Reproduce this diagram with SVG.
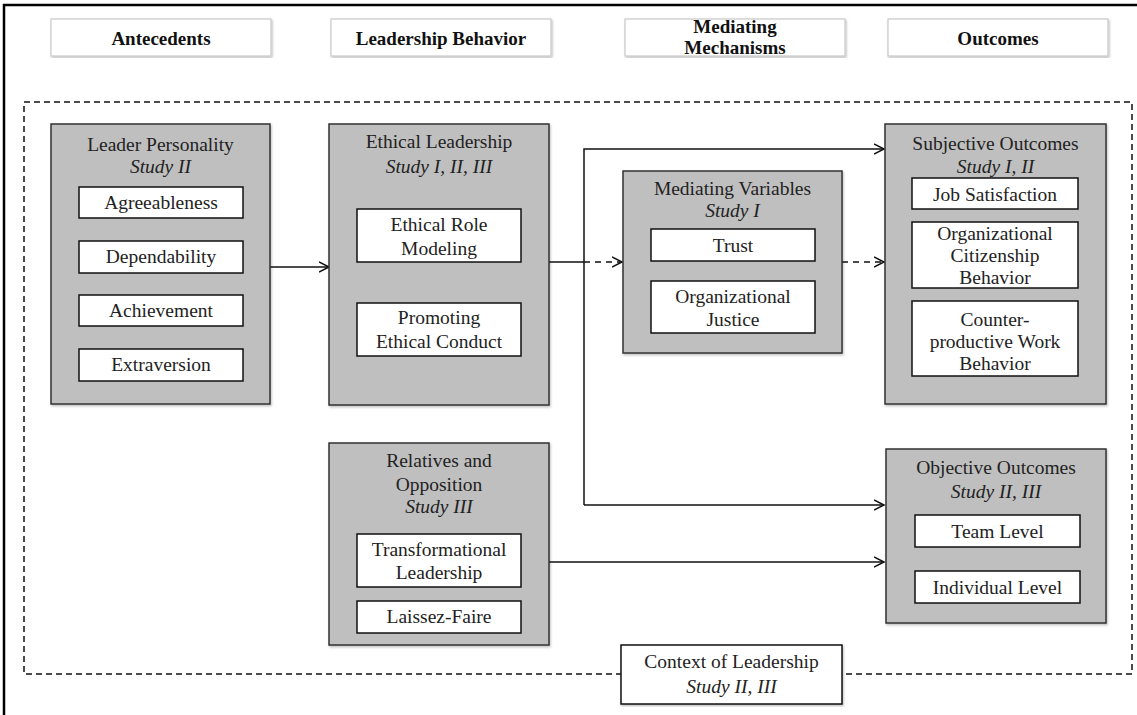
<svg xmlns="http://www.w3.org/2000/svg" width="1137" height="715" viewBox="0 0 1137 715">
<style>
.t{font-family:"Liberation Serif","Times New Roman",serif;font-size:19.5px;fill:#222;text-anchor:middle}
.i{font-style:italic}
.h{font-family:"Liberation Serif","Times New Roman",serif;font-size:19px;font-weight:bold;fill:#111;text-anchor:middle}
.hb{fill:#fff;stroke:#c8c8c8;stroke-width:1.2}
.g{fill:#bfbfbf;stroke:#333;stroke-width:1.5}
.w{fill:#fff;stroke:#111;stroke-width:1.5}
.ln{fill:none;stroke:#111;stroke-width:1.5}
.dl{fill:none;stroke:#111;stroke-width:1.5;stroke-dasharray:6 5}
</style>
<defs>
<marker id="ah" markerUnits="userSpaceOnUse" markerWidth="12" markerHeight="12" refX="10" refY="5" orient="auto" viewBox="0 0 12 10">
<path d="M0,0 L10,5 L0,10" fill="none" stroke="#111" stroke-width="1.5"/>
</marker>
<filter id="sh" x="-5%" y="-5%" width="110%" height="110%">
<feDropShadow dx="1" dy="1.5" stdDeviation="1" flood-color="#000" flood-opacity="0.25"/>
</filter>
</defs>
<rect width="1137" height="715" fill="#fff"/>
<path d="M4,715 V5 H1137" fill="none" stroke="#000" stroke-width="2.5"/>

<g id="headers">
<rect class="hb" x="51" y="19" width="220" height="37" filter="url(#sh)"/>
<text class="h" x="161" y="45">Antecedents</text>
<rect class="hb" x="331" y="19" width="220" height="37" filter="url(#sh)"/>
<text class="h" x="441" y="45">Leadership Behavior</text>
<rect class="hb" x="625" y="19" width="220" height="37" filter="url(#sh)"/>
<text class="h" x="735" y="33">Mediating</text>
<text class="h" x="735" y="54">Mechanisms</text>
<rect class="hb" x="888" y="19" width="220" height="37" filter="url(#sh)"/>
<text class="h" x="998" y="45">Outcomes</text>
</g>

<rect id="context-frame" x="24" y="102" width="1108" height="572" fill="none" stroke="#111" stroke-width="1.5" stroke-dasharray="6 4"/>

<g id="connectors">
<path class="ln" d="M270,267 H329" marker-end="url(#ah)"/>
<path class="ln" d="M549,262 H584"/>
<path class="dl" d="M584,262 H622" marker-end="url(#ah)"/>
<path class="ln" d="M584,505 V149 H884" marker-end="url(#ah)"/>
<path class="ln" d="M584,505 H884" marker-end="url(#ah)"/>
<path class="dl" d="M842,262 H884" marker-end="url(#ah)"/>
<path class="ln" d="M549,562 H884" marker-end="url(#ah)"/>
</g>

<g id="leader-personality">
<rect class="g" x="51" y="124" width="219" height="280" filter="url(#sh)"/>
<text class="t" x="160.5" y="151">Leader Personality</text>
<text class="t i" x="160.5" y="173">Study II</text>
<rect class="w" x="79" y="187" width="164" height="31"/>
<text class="t" x="161" y="209">Agreeableness</text>
<rect class="w" x="79" y="241" width="164" height="32"/>
<text class="t" x="161" y="263">Dependability</text>
<rect class="w" x="79" y="295" width="164" height="31"/>
<text class="t" x="161" y="317">Achievement</text>
<rect class="w" x="79" y="349" width="164" height="32"/>
<text class="t" x="161" y="371">Extraversion</text>
</g>

<g id="ethical-leadership">
<rect class="g" x="329" y="124" width="220" height="281" filter="url(#sh)"/>
<text class="t" x="439" y="148">Ethical Leadership</text>
<text class="t i" x="439" y="173">Study I, II, III</text>
<rect class="w" x="357" y="209" width="164" height="53"/>
<text class="t" x="439" y="231">Ethical Role</text>
<text class="t" x="439" y="255">Modeling</text>
<rect class="w" x="357" y="303" width="164" height="53"/>
<text class="t" x="439" y="324">Promoting</text>
<text class="t" x="439" y="348">Ethical Conduct</text>
</g>

<g id="relatives-opposition">
<rect class="g" x="329" y="443" width="220" height="202" filter="url(#sh)"/>
<text class="t" x="439" y="467">Relatives and</text>
<text class="t" x="439" y="491">Opposition</text>
<text class="t i" x="439" y="513">Study III</text>
<rect class="w" x="357" y="534" width="164" height="53"/>
<text class="t" x="439" y="556">Transformational</text>
<text class="t" x="439" y="579">Leadership</text>
<rect class="w" x="357" y="601" width="164" height="32"/>
<text class="t" x="439" y="623">Laissez-Faire</text>
</g>

<g id="mediating-variables">
<rect class="g" x="623" y="171" width="219" height="182" filter="url(#sh)"/>
<text class="t" x="732.5" y="195">Mediating Variables</text>
<text class="t i" x="732.5" y="217">Study I</text>
<rect class="w" x="651" y="229" width="164" height="32"/>
<text class="t" x="733" y="252">Trust</text>
<rect class="w" x="651" y="281" width="164" height="52"/>
<text class="t" x="733" y="303">Organizational</text>
<text class="t" x="733" y="326">Justice</text>
</g>

<g id="subjective-outcomes">
<rect class="g" x="885" y="124" width="221" height="280" filter="url(#sh)"/>
<text class="t" x="995.5" y="150">Subjective Outcomes</text>
<text class="t i" x="995.5" y="173">Study I, II</text>
<rect class="w" x="912" y="178" width="166" height="31"/>
<text class="t" x="995" y="201">Job Satisfaction</text>
<rect class="w" x="912" y="222" width="166" height="66"/>
<text class="t" x="995" y="240">Organizational</text>
<text class="t" x="995" y="262">Citizenship</text>
<text class="t" x="995" y="284">Behavior</text>
<rect class="w" x="912" y="301" width="166" height="75"/>
<text class="t" x="995" y="326">Counter-</text>
<text class="t" x="995" y="348">productive Work</text>
<text class="t" x="995" y="370">Behavior</text>
</g>

<g id="objective-outcomes">
<rect class="g" x="886" y="449" width="220" height="174" filter="url(#sh)"/>
<text class="t" x="996" y="474">Objective Outcomes</text>
<text class="t i" x="996" y="498">Study II, III</text>
<rect class="w" x="915" y="515" width="165" height="32"/>
<text class="t" x="997.5" y="538">Team Level</text>
<rect class="w" x="915" y="571" width="165" height="32"/>
<text class="t" x="997.5" y="594">Individual Level</text>
</g>

<g id="context-of-leadership">
<rect class="w" x="621" y="645" width="221" height="59" filter="url(#sh)"/>
<text class="t" x="731.5" y="668">Context of Leadership</text>
<text class="t i" x="731.5" y="693">Study II, III</text>
</g>
</svg>
